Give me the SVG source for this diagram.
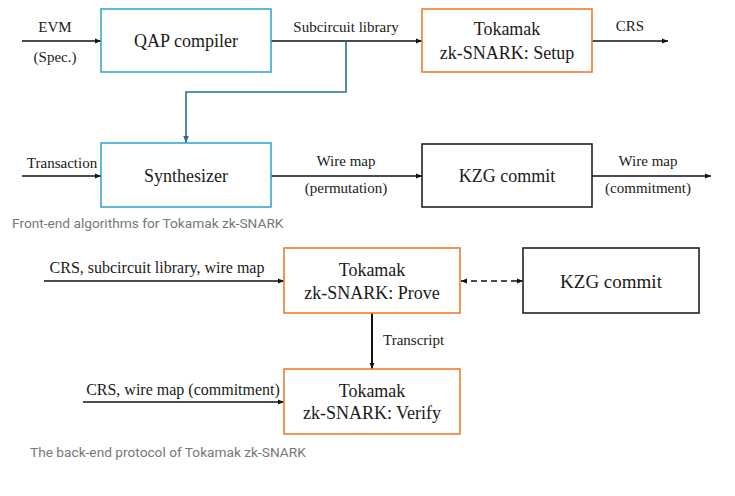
<svg xmlns="http://www.w3.org/2000/svg" width="735" height="496" viewBox="0 0 735 496">
<style>
.box{fill:#fff;stroke-width:1.6}
.blue{stroke:#3aa6cf}
.orange{stroke:#ed7d31}
.black{stroke:#222}
.bt{font-family:"Liberation Serif","Times New Roman",serif;font-size:18px;fill:#1a1a1a;text-anchor:middle}
.lt{font-family:"Liberation Serif","Times New Roman",serif;font-size:15px;fill:#1a1a1a;text-anchor:middle}
.cap{font-family:Roboto,"Liberation Sans",sans-serif;font-size:13.7px;fill:#777}
.ln{fill:none;stroke:#111;stroke-width:1.5}
</style>
<defs>
<marker id="ah" viewBox="0 0 10 10" refX="10" refY="5" markerWidth="6" markerHeight="6" orient="auto-start-reverse" markerUnits="userSpaceOnUse">
<path d="M0,1 L10,5 L0,9 Z" fill="#111"/>
</marker>
<marker id="ahb" viewBox="0 0 10 10" refX="10" refY="5" markerWidth="7" markerHeight="7" orient="auto" markerUnits="userSpaceOnUse">
<path d="M0,1 L10,5 L0,9 Z" fill="#2b6f96"/>
</marker>
</defs>
<rect width="735" height="496" fill="#fff"/>

<g id="connectors">
<line class="ln" x1="22" y1="41" x2="101" y2="41" marker-end="url(#ah)"/>
<line class="ln" x1="271" y1="41" x2="422" y2="41" marker-end="url(#ah)"/>
<line class="ln" x1="592" y1="41" x2="668" y2="41" marker-end="url(#ah)"/>
<polyline points="346,41 346,92 186,92 186,143" fill="none" stroke="#2b6f96" stroke-width="1.6" marker-end="url(#ahb)"/>
<line class="ln" x1="22" y1="176" x2="101" y2="176" marker-end="url(#ah)"/>
<line class="ln" x1="271" y1="176" x2="422" y2="176" marker-end="url(#ah)"/>
<line class="ln" x1="592" y1="176" x2="711" y2="176" marker-end="url(#ah)"/>
<line class="ln" x1="44" y1="281" x2="284" y2="281" marker-end="url(#ah)"/>
<line class="ln" x1="461" y1="281" x2="523" y2="281" stroke-dasharray="6,4" marker-start="url(#ah)" marker-end="url(#ah)"/>
<line class="ln" x1="372" y1="313" x2="372" y2="369" style="stroke-width:2" marker-end="url(#ah)"/>
<line class="ln" x1="83" y1="402" x2="284" y2="402" marker-end="url(#ah)"/>
<text class="lt" x="55" y="32">EVM</text>
<text class="lt" x="55" y="62">(Spec.)</text>
<text class="lt" x="346" y="32">Subcircuit library</text>
<text class="lt" x="630" y="31">CRS</text>
<text class="lt" x="62" y="168">Transaction</text>
<text class="lt" x="346" y="166">Wire map</text>
<text class="lt" x="346" y="193">(permutation)</text>
<text class="lt" x="648" y="166">Wire map</text>
<text class="lt" x="648" y="193">(commitment)</text>
<text class="lt" x="157" y="273" style="font-size:16px">CRS, subcircuit library, wire map</text>
<text class="lt" x="383" y="345" style="text-anchor:start">Transcript</text>
<text class="lt" x="183" y="395" style="font-size:16px">CRS, wire map (commitment)</text>
</g>

<g id="qap"><rect class="box blue" x="101" y="9" width="170" height="63"/><text class="bt" x="186" y="47">QAP compiler</text></g>
<g id="setup"><rect class="box orange" x="422" y="9" width="170" height="63"/><text class="bt" x="507" y="35">Tokamak</text><text class="bt" x="507" y="59">zk-SNARK: Setup</text></g>
<g id="synth"><rect class="box blue" x="101" y="143" width="170" height="64"/><text class="bt" x="186" y="182">Synthesizer</text></g>
<g id="kzg1"><rect class="box black" x="422" y="144" width="170" height="63"/><text class="bt" x="507" y="182">KZG commit</text></g>
<g id="prove"><rect class="box orange" x="284" y="248" width="176" height="65"/><text class="bt" x="372" y="276">Tokamak</text><text class="bt" x="372" y="299">zk-SNARK: Prove</text></g>
<g id="kzg2"><rect class="box black" x="523" y="248" width="176" height="65"/><text class="bt" x="611" y="288" style="font-size:19px">KZG commit</text></g>
<g id="verify"><rect class="box orange" x="284" y="369" width="176" height="65"/><text class="bt" x="372" y="397">Tokamak</text><text class="bt" x="372" y="419">zk-SNARK: Verify</text></g>

<text class="cap" x="12" y="228">Front-end algorithms for Tokamak zk-SNARK</text>
<text class="cap" x="30" y="457">The back-end protocol of Tokamak zk-SNARK</text>
</svg>
